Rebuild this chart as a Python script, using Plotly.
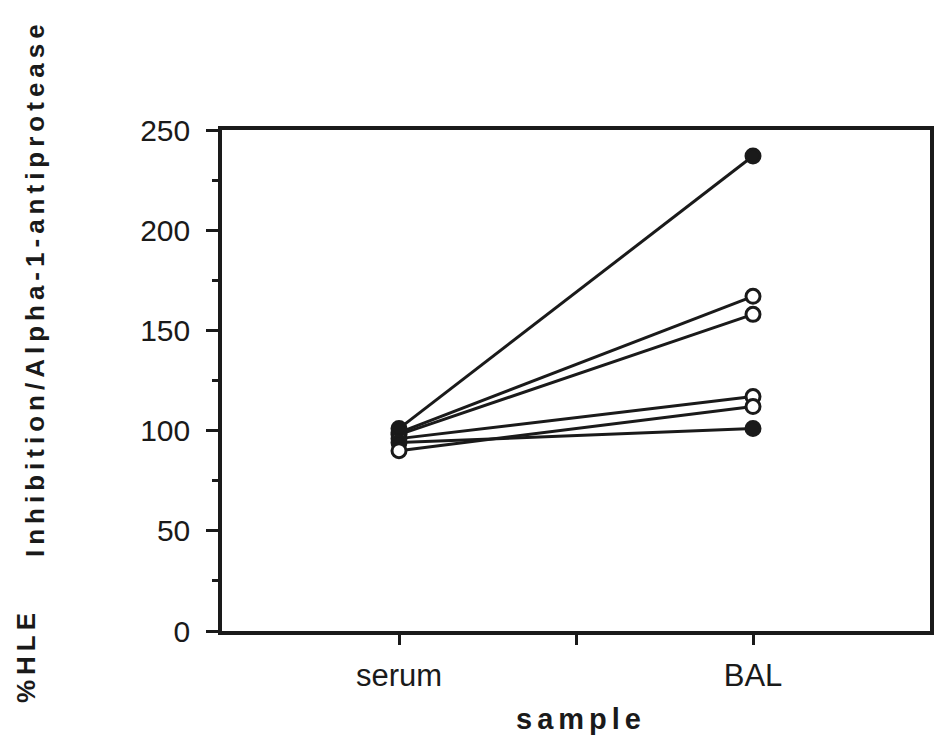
import plotly.graph_objects as go

# ---- data ----
samples = ["serum", "BAL"]
serum_vals = [101, 99, 98, 96, 90, 94]
bal_vals = [237, 167, 158, 117, 112, 101]
filled = [True, False, False, False, False, True]
y_tick_vals = [0, 50, 100, 150, 200, 250]
x_title = "sample"
y_title_main = "Inhibition/Alpha-1-antiprotease"
y_title_unit = "%HLE"

# ---- layout geometry ----
W, H = 940, 743
L, R, T, B = 222, 6, 130, 112
PW, PH = W - L - R, H - T - B


def px_x(px):
    return (px - L) / PW


def px_y(py):
    return 1 - (py - T) / PH


FONT = "Liberation Sans, Arial, Helvetica, sans-serif"
INK = "#1a1a1a"

fig = go.Figure()
order = [1, 2, 3, 0, 5, 4]
for i in order:
    fig.add_trace(go.Scatter(
        x=[0, 1], y=[serum_vals[i], bal_vals[i]],
        mode="lines+markers",
        line=dict(color=INK, width=3),
        marker=dict(size=14, color=INK if filled[i] else "white",
                    line=dict(color=INK, width=3)),
        showlegend=False, hoverinfo="skip",
    ))

fig.update_layout(
    width=W, height=H,
    margin=dict(l=L, r=R, t=T, b=B, pad=0),
    paper_bgcolor="white", plot_bgcolor="white",
    font=dict(family=FONT, color=INK),
    xaxis=dict(
        range=[-0.5, 1.5],
        tickmode="array", tickvals=[0, 0.5, 1], ticktext=[samples[0], "", samples[1]],
        ticks="outside", ticklen=10, tickwidth=3, tickcolor=INK,
        showline=True, linewidth=3.5, linecolor=INK, mirror=True,
        showgrid=False, zeroline=False,
        tickfont=dict(size=31, family=FONT, color=INK),
        ticklabelstandoff=4,
    ),
    yaxis=dict(
        range=[0, 250],
        tickmode="array", tickvals=y_tick_vals,
        ticks="outside", ticklen=12, tickwidth=3, tickcolor=INK,
        minor=dict(dtick=25, ticks="outside", ticklen=6, tickwidth=3, tickcolor=INK),
        showline=True, linewidth=3.5, linecolor=INK, mirror=True,
        showgrid=False, zeroline=False,
        tickfont=dict(size=30, family=FONT, color=INK),
        ticklabelstandoff=10,
    ),
    annotations=[
        dict(text='<span style="letter-spacing:5px"><b>%s</b></span>' % x_title,
             xref="paper", yref="paper", x=px_x(583), y=px_y(719),
             xanchor="center", yanchor="middle", showarrow=False,
             font=dict(size=29, family=FONT, color=INK)),
        dict(text='<span style="letter-spacing:5px"><b>%s</b></span>' % y_title_main,
             xref="paper", yref="paper", x=px_x(34), y=px_y(288),
             xanchor="center", yanchor="middle", showarrow=False, textangle=-90,
             font=dict(size=26, family=FONT, color=INK)),
        dict(text='<span style="letter-spacing:5px"><b>%s</b></span>' % y_title_unit,
             xref="paper", yref="paper", x=px_x(25), y=px_y(656),
             xanchor="center", yanchor="middle", showarrow=False, textangle=-90,
             font=dict(size=26, family=FONT, color=INK)),
    ],
)

fig.write_html("out.html")
